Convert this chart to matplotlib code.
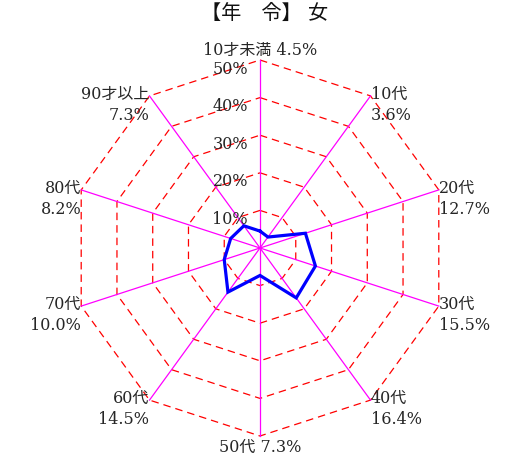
import numpy as np
import matplotlib.pyplot as plt

# 年齢別構成比（女）
categories = ['10才未満', '10代', '20代', '30代', '40代', '50代', '60代', '70代', '80代', '90才以上']
values = [4.5, 3.6, 12.7, 15.5, 16.4, 7.3, 14.5, 10.0, 8.2, 7.3]
ring_levels = [10, 20, 30, 40, 50]
title = '【年　令】 女'

FONT = ['DejaVu Serif', 'Noto Sans CJK JP']
plt.rcParams['font.family'] = FONT
TXT = '#262626'
FS = 11.5

n = len(categories)
rmax = ring_levels[-1]
theta = np.arange(n) * 2 * np.pi / n  # 上から時計回り


def to_xy(r, t):
    return r * np.sin(t), r * np.cos(t)


fig = plt.figure(figsize=(5.06, 4.63), dpi=100)
ax = fig.add_axes([0, 0, 1, 1])
# 中心 (260, 248) px、50% = 188 px
scale = rmax / 188.0
ax.set_xlim(-260 * scale, 246 * scale)
ax.set_ylim(-215 * scale, 248 * scale)
ax.axis('off')

# 目盛りの十角形
tt = np.append(theta, theta[0])
for lv in ring_levels:
    x, y = to_xy(lv, tt)
    ax.plot(x, y, color='#ff0000', lw=0.9, linestyle=(0, (6, 4)), zorder=1)
    ax.annotate(f'{lv}%', (0, lv), xytext=(-12, -9), textcoords='offset pixels',
                ha='right', va='center', fontsize=FS, color=TXT)

# 放射線
for t in theta:
    x, y = to_xy(rmax, t)
    ax.plot([0, x], [0, y], color='#ff00ff', lw=0.9, zorder=2)

# データ
x, y = to_xy(np.append(values, values[0]), tt)
ax.plot(x, y, color='#0000ff', lw=2.3, zorder=3, solid_joinstyle='miter')

# 項目ラベル
for i, (cat, v, t) in enumerate(zip(categories, values, theta)):
    px, py = to_xy(rmax, t)
    if i == 0:
        ax.annotate(f'{cat} {v:.1f}%', (px, py), xytext=(0, 10), textcoords='offset pixels',
                    ha='center', va='center', fontsize=FS, color=TXT)
    elif i == n // 2:
        ax.annotate(f'{cat} {v:.1f}%', (px, py), xytext=(0, -11), textcoords='offset pixels',
                    ha='center', va='center', fontsize=FS, color=TXT)
    else:
        ha = 'left' if i < n // 2 else 'right'
        ax.annotate(f'{cat}\n{v:.1f}%', (px, py), xytext=(0, 10), textcoords='offset pixels',
                    ha=ha, va='top', multialignment=ha, fontsize=FS, color=TXT,
                    linespacing=1.3)

fig.text(265 / 506, 1 - 13 / 463, title, ha='center', va='center', fontsize=14.5, color='#111111')

fig.savefig('out.png', dpi=100)
